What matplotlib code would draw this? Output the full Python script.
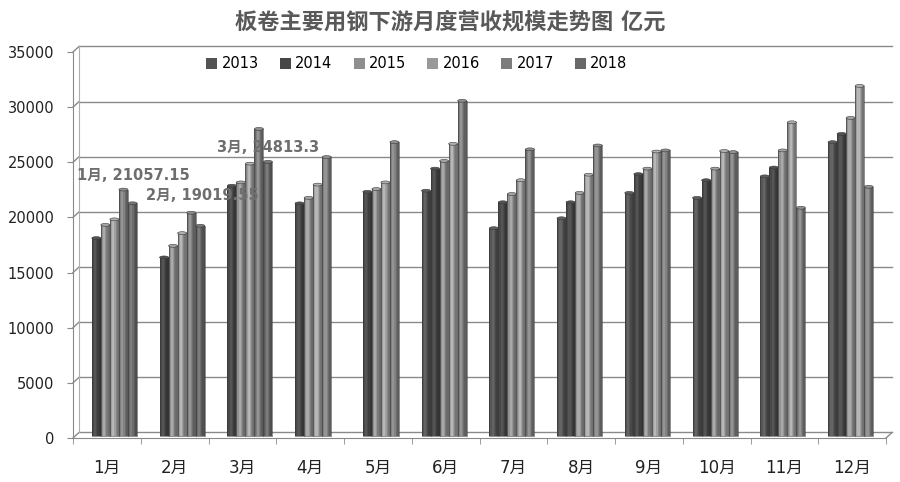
import numpy as np
import matplotlib
matplotlib.use('Agg')
import matplotlib.pyplot as plt
from matplotlib.patches import Patch, Ellipse
from matplotlib.transforms import offset_copy

plt.rcParams['font.family'] = ['DejaVu Sans', 'Noto Sans CJK SC']

nan = np.nan
months = ['1月', '2月', '3月', '4月', '5月', '6月', '7月', '8月', '9月', '10月', '11月', '12月']
years = ['2013', '2014', '2015', '2016', '2017', '2018']

v2013 = [nan, nan, nan, nan, nan, 22200, 18800, 19700, 22000, 21550, 23500, 26600]
v2014 = [17900, 16150, 22650, 21050, 22100, 24200, 21150, 21150, 23700, 23150, 24300, 27350]
v2015 = [19100, 17200, 22950, 21550, 22350, 24900, 21900, 22000, 24200, 24200, 25850, 28800]
v2016 = [19600, 18350, 24650, 22750, 22950, 26450, 23150, 23650, 25750, 25800, 28400, 31700]
v2017 = [22300, 20200, 27800, 25250, 26600, 30350, 25950, 26300, 25850, 25700, 20650, 22550]
v2018 = [21057.15, 19019.55, 24813.3, nan, nan, nan, nan, nan, nan, nan, nan, nan]
series = [v2013, v2014, v2015, v2016, v2017, v2018]

colors = ['#535353', '#474747', '#8e8e8e', '#999999', '#7c7c7c', '#686868']

# labelled points: (month index, text offset in pixels)
labelled = [(0, (-55, 28)), (1, (-54, 30)), (2, (-51, 14))]

fig = plt.figure(figsize=(9, 4.82), dpi=100)
ax = fig.add_axes([73 / 900, 44 / 482, 813 / 900, 386 / 482])
ax.set_xlim(-0.5, 11.5)
ax.set_ylim(0, 35000)

grid_c = '#8a8a8a'
dx, dy = 6 / 813 * 12, 500   # back wall offset (3d look)

# back wall grid
yt = np.arange(0, 35001, 5000)
for v in yt:
    ax.plot([-0.5 + dx, 11.5 + dx], [v + dy, v + dy], color=grid_c, lw=1, clip_on=False, zorder=0)
    ax.plot([-0.5, -0.5 + dx], [v, v + dy], color=grid_c, lw=1, clip_on=False, zorder=0)
ax.plot([-0.5 + dx, -0.5 + dx], [dy, 35000 + dy], color='#b0b0b0', lw=0.8, clip_on=False, zorder=0)
ax.plot([11.5, 11.5 + dx], [0, dy], color=grid_c, lw=1, clip_on=False, zorder=0)

# bars, drawn half way into the depth
tb = offset_copy(ax.transData, fig=fig, x=3, y=2.5, units='dots')
w = 0.8 / 6
nstrip = 8
x = np.arange(len(months))
for k, vals in enumerate(series):
    base = np.array(matplotlib.colors.to_rgb(colors[k]))
    for i, v in enumerate(vals):
        if np.isnan(v):
            continue
        xc = x[i] + (k - 2.5) * w
        left = xc - w / 2
        for s in range(nstrip):
            t = (s + 0.5) / nstrip
            m = 0.72 + 0.5 * np.exp(-((t - 0.38) / 0.28) ** 2)
            c = np.clip(base * m, 0, 1)
            ax.bar(left + s * w / nstrip, v, width=w / nstrip, align='edge',
                   color=c, lw=0, transform=tb, zorder=3)
        ax.bar(xc, v, width=w, color='none', edgecolor='#3a3a3a', lw=0.4,
               transform=tb, zorder=3)
        ax.add_patch(Ellipse((xc, v), w, 260, facecolor=np.clip(base * 1.15, 0, 1),
                             edgecolor='#3a3a3a', lw=0.4, transform=tb, zorder=4))

# data labels for 2018
for i, off in labelled:
    v = v2018[i]
    ax.annotate(f'{months[i]}, {v}', xy=(x[i] + 2.5 * w, v), xycoords=tb,
                xytext=off, textcoords='offset pixels', ha='left', va='center',
                fontsize=10.5, fontweight='bold', color='#6e6e6e', zorder=5)

# axes
for sp in ['top', 'right']:
    ax.spines[sp].set_visible(False)
ax.spines['left'].set_color(grid_c)
ax.spines['bottom'].set_color(grid_c)
ax.set_yticks(yt)
ax.set_yticklabels([str(v) for v in yt])
ax.tick_params(axis='y', length=4.3, color=grid_c, pad=9, labelsize=10.5, labelcolor='#222222')
ax.set_xticks(x)
ax.set_xticklabels(months)
ax.set_xticks(np.arange(-0.5, 12, 1), minor=True)
ax.tick_params(axis='x', which='major', length=0, pad=15, labelsize=12, labelcolor='#222222')
ax.tick_params(axis='x', which='minor', length=4.5, color=grid_c)

handles = [Patch(facecolor=c, edgecolor='none') for c in colors]
fig.legend(handles, years, loc='center', bbox_to_anchor=(417 / 900, 1 - 64 / 482),
           ncol=6, frameon=False, fontsize=10.5, handlelength=0.75, handleheight=0.75,
           handletextpad=0.3, columnspacing=1.45)

fig.text(0.5, 1 - 22 / 482, '板卷主要用钢下游月度营收规模走势图 亿元', ha='center', va='center',
         fontsize=16, fontweight='bold', color='#595959')

fig.savefig('out.png', dpi=100)
